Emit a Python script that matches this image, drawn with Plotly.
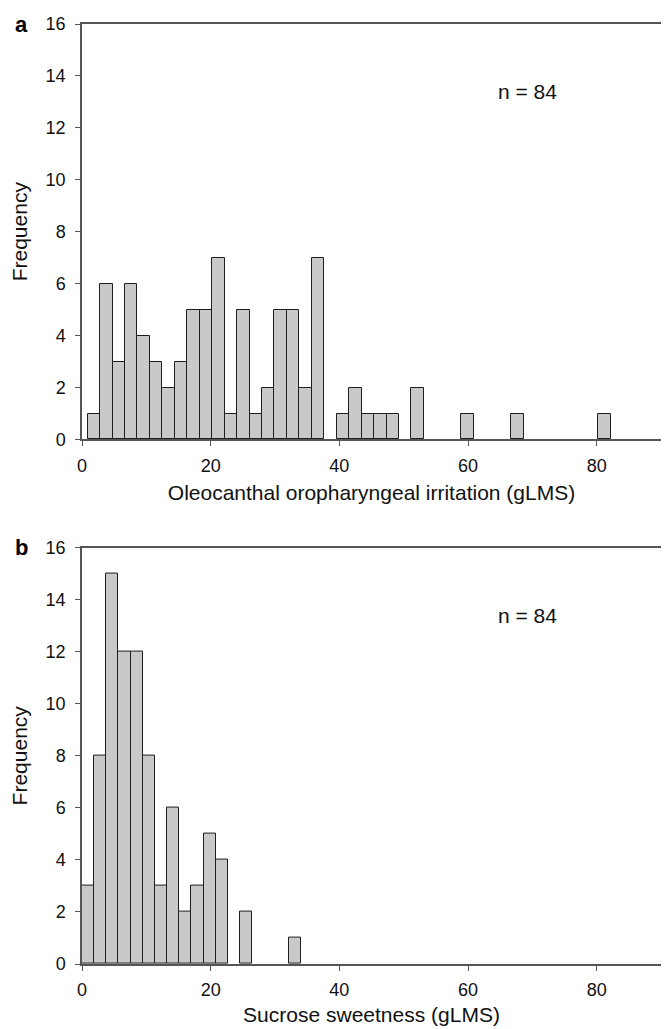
import plotly.graph_objects as go

# Panel a: oleocanthal oropharyngeal irritation histogram
a_bin_start = 0.87
a_bin_width = 1.936
a_counts = [1, 6, 3, 6, 4, 3, 2, 3, 5, 5, 7, 1, 5, 1, 2, 5, 5, 2, 7, 0,
            1, 2, 1, 1, 1, 0, 2, 0, 0, 0, 1, 0, 0, 0, 1, 0, 0, 0, 0, 0, 0, 1]

# Panel b: sucrose sweetness histogram
b_bin_start = 0.0
b_bin_width = 1.89
b_counts = [3, 8, 15, 12, 12, 8, 3, 6, 2, 3, 5, 4, 0, 2, 0, 0, 0, 1]

x_ticks = [0, 20, 40, 60, 80]
y_ticks = [0, 2, 4, 6, 8, 10, 12, 14, 16]
n_label = "n = 84"

a_centers = [a_bin_start + a_bin_width * (i + 0.5) for i in range(len(a_counts))]
b_centers = [b_bin_start + b_bin_width * (i + 0.5) for i in range(len(b_counts))]
# empty bins are not drawn (no outline on the axis)
a_y = [c if c > 0 else None for c in a_counts]
b_y = [c if c > 0 else None for c in b_counts]

FONT = "Liberation Sans, Arial, sans-serif"
fill = "#c8c9cb"
edge = "#1e1e1e"
TXT = "#111111"

fig = go.Figure()
fig.add_trace(go.Bar(x=a_centers, y=a_y, width=a_bin_width,
                     marker=dict(color=fill, line=dict(color=edge, width=1)),
                     xaxis="x", yaxis="y", showlegend=False))
fig.add_trace(go.Bar(x=b_centers, y=b_y, width=b_bin_width,
                     marker=dict(color=fill, line=dict(color=edge, width=1)),
                     xaxis="x2", yaxis="y2", showlegend=False))

axis_common = dict(showline=True, linecolor="#555555", linewidth=1.5, mirror=True,
                   ticks="outside", ticklen=5, tickwidth=1, tickcolor="#555555",
                   showgrid=False, zeroline=False,
                   tickfont=dict(family=FONT, size=18, color=TXT))

top_dom = [0.558, 1.0]
bot_dom = [0.0, 0.443]

xt = dict(family=FONT, size=21, color=TXT)

fig.update_layout(
    width=661, height=1021,
    margin=dict(l=74, r=6, t=9, b=64),
    paper_bgcolor="white", plot_bgcolor="white",
    font=dict(family=FONT, color=TXT),
    bargap=0,
    xaxis=dict(domain=[0, 1], anchor="y", range=[0, 90], tickvals=x_ticks,
               ticklabelstandoff=4,
               title=dict(text="Oleocanthal oropharyngeal irritation (gLMS)",
                          font=xt, standoff=10),
               **axis_common),
    yaxis=dict(domain=top_dom, anchor="x", range=[0, 16], tickvals=y_ticks,
               ticklabelstandoff=6,
               title=dict(text="Frequency", font=xt, standoff=14),
               **axis_common),
    xaxis2=dict(domain=[0, 1], anchor="y2", range=[0, 90], tickvals=x_ticks,
                ticklabelstandoff=4,
                title=dict(text="Sucrose sweetness (gLMS)", font=xt, standoff=8),
                **axis_common),
    yaxis2=dict(domain=bot_dom, anchor="x2", range=[0, 16], tickvals=y_ticks,
                ticklabelstandoff=6,
                title=dict(text="Frequency", font=xt, standoff=14),
                **axis_common),
    annotations=[
        dict(text=n_label, x=69.2, y=13.4, xref="x", yref="y", showarrow=False,
             font=xt),
        dict(text=n_label, x=69.2, y=13.4, xref="x2", yref="y2", showarrow=False,
             font=xt),
        dict(text="<b>a</b>", x=-0.119, y=1.0, xref="paper", yref="paper",
             xanchor="left", yanchor="middle", showarrow=False,
             font=dict(family=FONT, size=22, color="#000000")),
        dict(text="<b>b</b>", x=-0.119, y=bot_dom[1], xref="paper", yref="paper",
             xanchor="left", yanchor="middle", showarrow=False,
             font=dict(family=FONT, size=22, color="#000000")),
    ],
)

fig.write_html("out.html")
